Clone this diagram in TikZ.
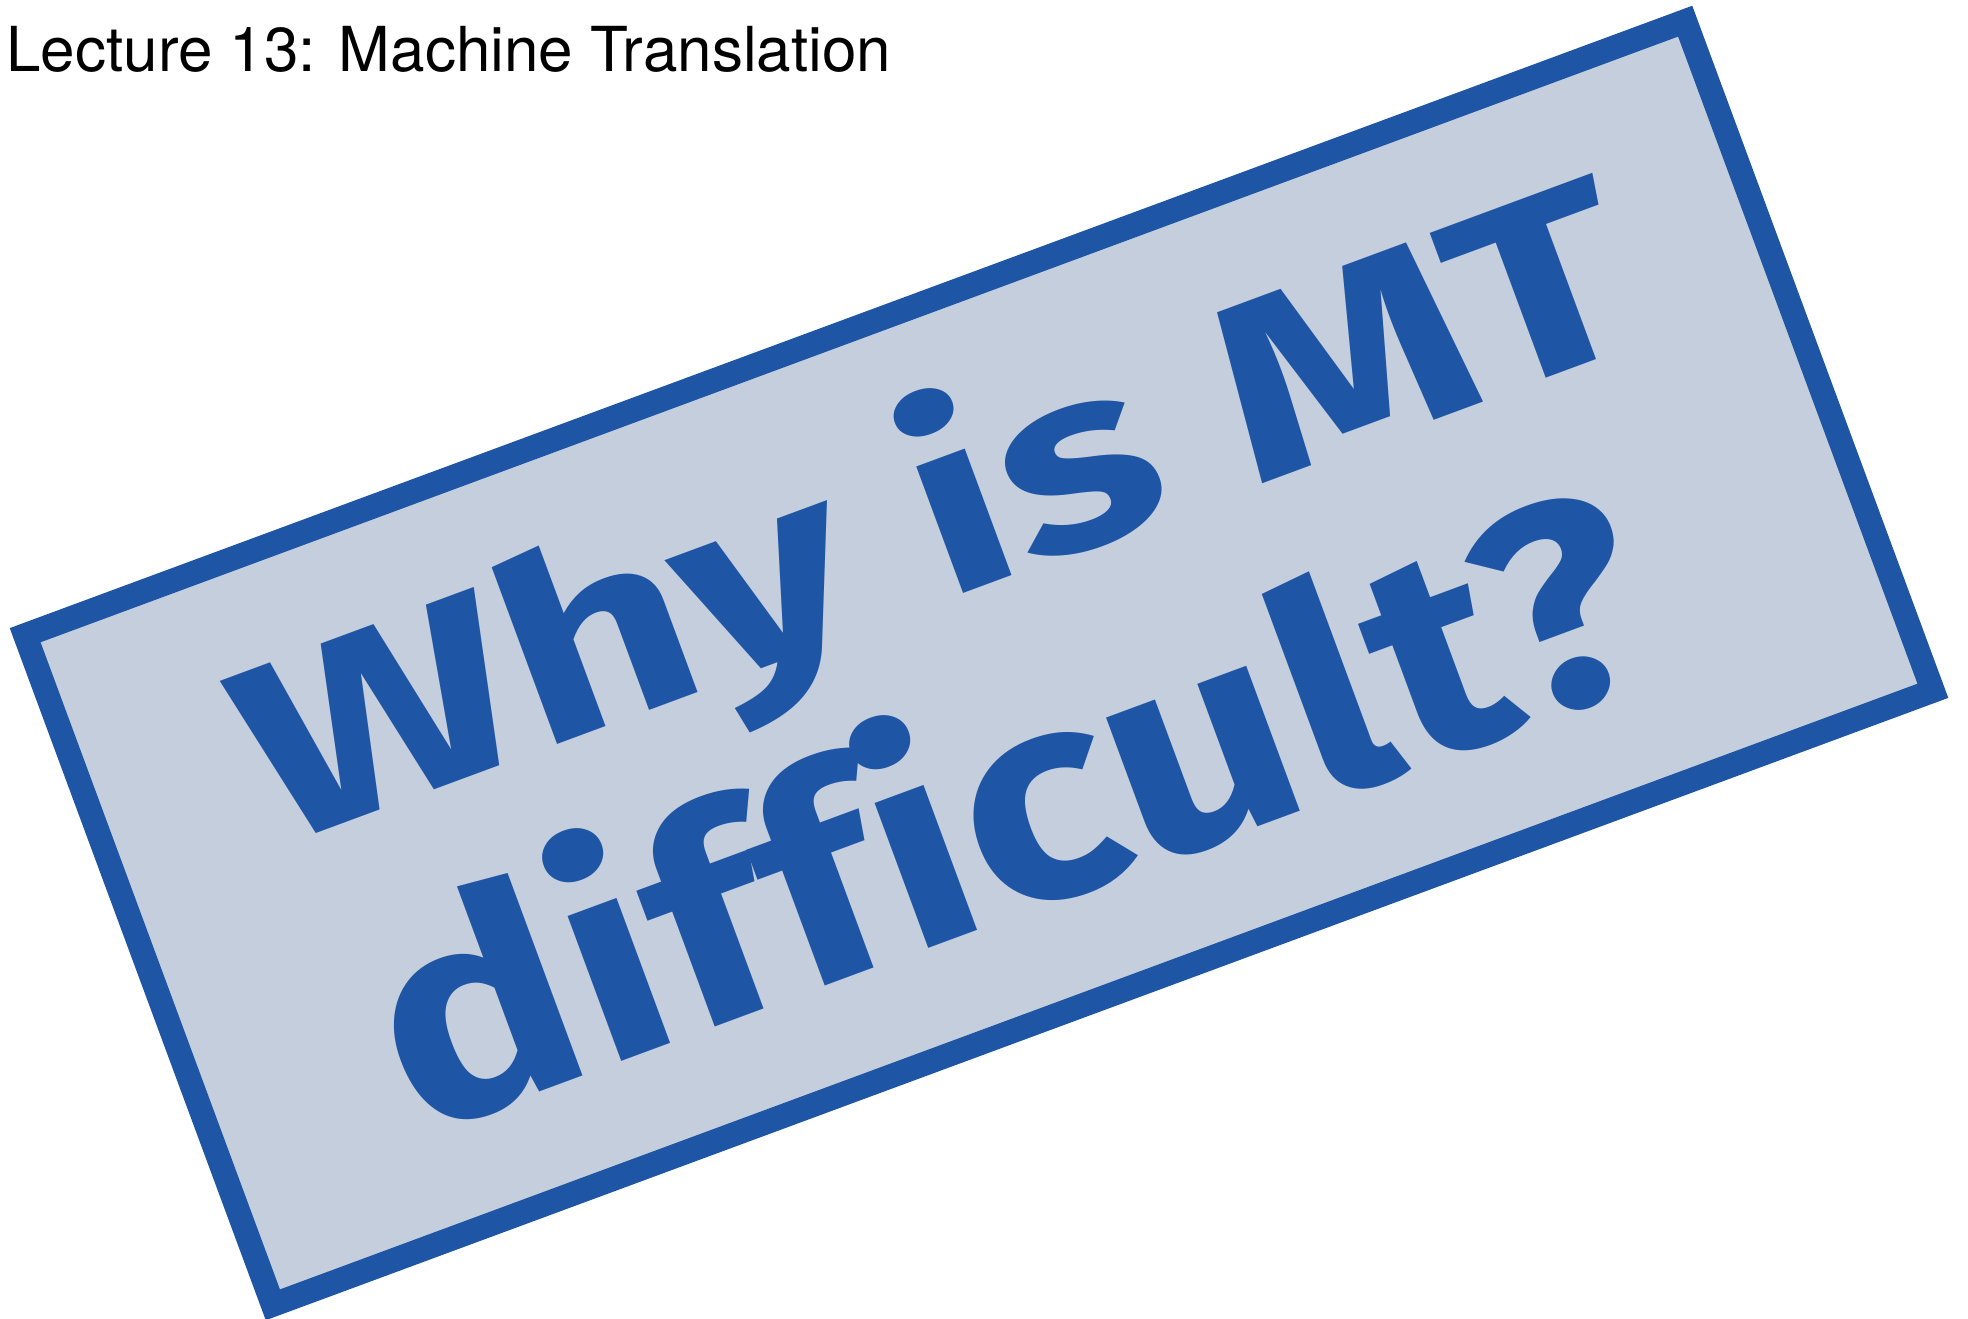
\documentclass[tikz,border=0pt]{standalone}
\usepackage{fontspec}
\setmainfont{TeX Gyre Heros}
\newfontfamily\handfont{Fira Sans}[Ligatures=NoCommon]
\usetikzlibrary{shadows.blur}

\definecolor{stampblue}{RGB}{30,85,165}
\definecolor{stampfill}{RGB}{197,206,221}

\tikzset{
  stampframe/.style={draw=stampblue, fill=stampfill, line width=12pt, line join=miter,
    blur shadow={shadow xshift=-1pt, shadow yshift=-2pt, shadow blur steps=6, shadow opacity=30}},
  handtext/.style={text=stampblue, inner sep=0pt, anchor=base, transform shape, font=\handfont\bfseries}
}

\begin{document}
\begin{tikzpicture}[x=0.5pt,y=0.5pt]
\useasboundingbox (0,0) rectangle (1968,1318);

\node[anchor=base west, inner sep=0pt, font=\fontsize{31}{37}\selectfont] (title) at (6,1246) {Lecture 13: Machine Translation};

% the tilted stamp
\begin{scope}[shift={(979,655)}, rotate=20.3]
\draw[stampframe] (-885,-357) rectangle (885,357);
\node[handtext] (whyline) at (12,70) {\resizebox{733pt}{103pt}{Why is MT}};
\node[handtext] (diffline) at (-24,-250) {\resizebox{668pt}{118pt}{difficult?}};
\end{scope}

\end{tikzpicture}
\end{document}
